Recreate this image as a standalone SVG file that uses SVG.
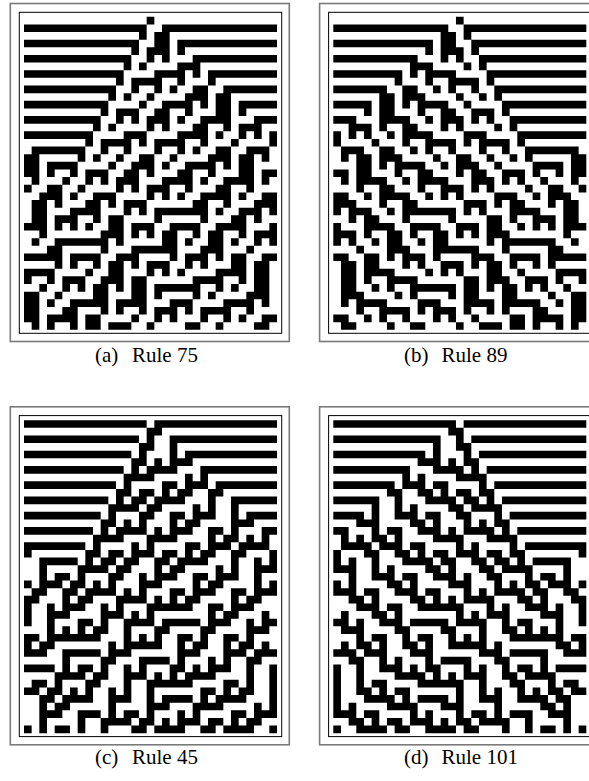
<svg xmlns="http://www.w3.org/2000/svg" xmlns:xlink="http://www.w3.org/1999/xlink" width="589" height="781" viewBox="0 0 589 781">
<style>
.outer{fill:none;stroke:#7a7a7a;stroke-width:1.6}
.inner{fill:none;stroke:#000;stroke-width:1}
.cap{font-family:"Liberation Serif","DejaVu Serif",serif;font-size:21px;fill:#000}
.ca{fill:#000}
</style>
<defs>
<path id="ca75" class="ca" d="M16 0h1v1h-1zM0 1h16v1h-16zM18 1h15v1h-15zM15 2h1v1h-1zM17 2h2v1h-2zM0 3h15v1h-15zM17 3h2v1h-2zM20 3h13v1h-13zM14 4h1v1h-1zM16 4h3v1h-3zM20 4h1v1h-1zM0 5h14v1h-14zM16 5h1v1h-1zM18 5h1v1h-1zM22 5h11v1h-11zM13 6h1v1h-1zM15 6h1v1h-1zM20 6h3v1h-3zM0 7h13v1h-13zM17 7h4v1h-4zM22 7h1v1h-1zM24 7h9v1h-9zM12 8h1v1h-1zM14 8h4v1h-4zM20 8h1v1h-1zM24 8h1v1h-1zM0 9h12v1h-12zM14 9h1v1h-1zM17 9h1v1h-1zM19 9h1v1h-1zM22 9h2v1h-2zM26 9h7v1h-7zM11 10h1v1h-1zM13 10h1v1h-1zM16 10h1v1h-1zM21 10h3v1h-3zM25 10h2v1h-2zM0 11h11v1h-11zM15 11h1v1h-1zM18 11h4v1h-4zM23 11h1v1h-1zM25 11h2v1h-2zM28 11h5v1h-5zM10 12h1v1h-1zM12 12h3v1h-3zM17 12h2v1h-2zM21 12h1v1h-1zM25 12h2v1h-2zM28 12h1v1h-1zM0 13h10v1h-10zM12 13h1v1h-1zM14 13h1v1h-1zM16 13h3v1h-3zM20 13h1v1h-1zM23 13h4v1h-4zM30 13h3v1h-3zM9 14h1v1h-1zM11 14h1v1h-1zM16 14h1v1h-1zM18 14h1v1h-1zM22 14h2v1h-2zM26 14h1v1h-1zM28 14h3v1h-3zM0 15h9v1h-9zM13 15h3v1h-3zM20 15h4v1h-4zM25 15h1v1h-1zM28 15h1v1h-1zM30 15h1v1h-1zM32 15h1v1h-1zM8 16h1v1h-1zM10 16h4v1h-4zM15 16h1v1h-1zM17 16h4v1h-4zM23 16h1v1h-1zM27 16h1v1h-1zM32 16h1v1h-1zM1 17h7v1h-7zM10 17h1v1h-1zM13 17h1v1h-1zM17 17h1v1h-1zM20 17h1v1h-1zM22 17h1v1h-1zM25 17h2v1h-2zM29 17h3v1h-3zM0 18h2v1h-2zM7 18h1v1h-1zM9 18h1v1h-1zM12 18h1v1h-1zM15 18h2v1h-2zM19 18h1v1h-1zM24 18h3v1h-3zM28 18h2v1h-2zM31 18h1v1h-1zM0 19h2v1h-2zM3 19h4v1h-4zM11 19h1v1h-1zM14 19h3v1h-3zM18 19h1v1h-1zM21 19h4v1h-4zM26 19h1v1h-1zM28 19h2v1h-2zM0 20h2v1h-2zM3 20h1v1h-1zM6 20h1v1h-1zM8 20h3v1h-3zM13 20h2v1h-2zM16 20h1v1h-1zM20 20h2v1h-2zM24 20h1v1h-1zM28 20h2v1h-2zM31 20h2v1h-2zM1 21h1v1h-1zM5 21h1v1h-1zM8 21h1v1h-1zM10 21h1v1h-1zM12 21h3v1h-3zM18 21h4v1h-4zM23 21h1v1h-1zM26 21h4v1h-4zM31 21h1v1h-1zM0 22h1v1h-1zM3 22h2v1h-2zM7 22h1v1h-1zM12 22h1v1h-1zM14 22h1v1h-1zM16 22h3v1h-3zM21 22h1v1h-1zM25 22h2v1h-2zM29 22h1v1h-1zM2 23h3v1h-3zM6 23h1v1h-1zM9 23h3v1h-3zM16 23h1v1h-1zM18 23h1v1h-1zM20 23h1v1h-1zM23 23h4v1h-4zM28 23h1v1h-1zM31 23h2v1h-2zM1 24h2v1h-2zM4 24h1v1h-1zM8 24h2v1h-2zM11 24h1v1h-1zM13 24h3v1h-3zM22 24h2v1h-2zM26 24h1v1h-1zM30 24h3v1h-3zM1 25h2v1h-2zM6 25h4v1h-4zM13 25h1v1h-1zM15 25h1v1h-1zM17 25h7v1h-7zM25 25h1v1h-1zM28 25h3v1h-3zM32 25h1v1h-1zM1 26h2v1h-2zM4 26h3v1h-3zM9 26h1v1h-1zM11 26h2v1h-2zM17 26h1v1h-1zM23 26h1v1h-1zM27 26h2v1h-2zM30 26h1v1h-1zM0 27h3v1h-3zM4 27h1v1h-1zM6 27h1v1h-1zM8 27h1v1h-1zM11 27h2v1h-2zM14 27h3v1h-3zM19 27h4v1h-4zM25 27h4v1h-4zM32 27h1v1h-1zM2 28h1v1h-1zM10 28h3v1h-3zM14 28h1v1h-1zM16 28h1v1h-1zM18 28h2v1h-2zM22 28h1v1h-1zM24 28h2v1h-2zM28 28h1v1h-1zM30 28h3v1h-3zM1 29h1v1h-1zM4 29h7v1h-7zM12 29h1v1h-1zM18 29h2v1h-2zM21 29h1v1h-1zM24 29h2v1h-2zM27 29h1v1h-1zM30 29h1v1h-1zM32 29h1v1h-1zM3 30h2v1h-2zM10 30h1v1h-1zM14 30h6v1h-6zM23 30h3v1h-3zM29 30h1v1h-1zM0 31h5v1h-5zM6 31h4v1h-4zM12 31h3v1h-3zM19 31h1v1h-1zM21 31h3v1h-3zM25 31h1v1h-1zM27 31h2v1h-2zM31 31h2v1h-2zM4 32h1v1h-1zM6 32h1v1h-1zM9 32h1v1h-1zM11 32h2v1h-2zM14 32h1v1h-1zM16 32h3v1h-3zM21 32h1v1h-1zM23 32h1v1h-1zM27 32h2v1h-2zM30 32h2v1h-2zM0 33h4v1h-4zM8 33h1v1h-1zM11 33h2v1h-2zM16 33h1v1h-1zM18 33h1v1h-1zM20 33h1v1h-1zM25 33h4v1h-4zM30 33h2v1h-2zM0 34h1v1h-1zM3 34h1v1h-1zM5 34h3v1h-3zM10 34h3v1h-3zM14 34h2v1h-2zM22 34h4v1h-4zM28 34h1v1h-1zM30 34h2v1h-2zM2 35h1v1h-1zM5 35h1v1h-1zM7 35h1v1h-1zM9 35h2v1h-2zM12 35h1v1h-1zM14 35h2v1h-2zM17 35h6v1h-6zM25 35h1v1h-1zM27 35h1v1h-1zM30 35h2v1h-2zM0 36h2v1h-2zM4 36h1v1h-1zM9 36h2v1h-2zM14 36h2v1h-2zM17 36h1v1h-1zM22 36h1v1h-1zM24 36h1v1h-1zM29 36h3v1h-3zM0 37h2v1h-2zM3 37h1v1h-1zM6 37h5v1h-5zM12 37h4v1h-4zM19 37h3v1h-3zM26 37h4v1h-4zM31 37h1v1h-1zM0 38h2v1h-2zM5 38h2v1h-2zM10 38h1v1h-1zM12 38h1v1h-1zM15 38h1v1h-1zM17 38h3v1h-3zM21 38h1v1h-1zM23 38h4v1h-4zM29 38h1v1h-1zM0 39h2v1h-2zM3 39h4v1h-4zM8 39h2v1h-2zM14 39h1v1h-1zM17 39h1v1h-1zM19 39h1v1h-1zM23 39h1v1h-1zM26 39h1v1h-1zM28 39h1v1h-1zM31 39h2v1h-2zM1 40h1v1h-1zM3 40h1v1h-1zM6 40h1v1h-1zM8 40h2v1h-2zM11 40h3v1h-3zM16 40h1v1h-1zM21 40h2v1h-2zM25 40h1v1h-1zM30 40h2v1h-2z"/>
<path id="ca45" class="ca" d="M0 0h16v1h-16zM17 0h16v1h-16zM16 1h2v1h-2zM0 2h15v1h-15zM16 2h1v1h-1zM19 2h14v1h-14zM15 3h2v1h-2zM19 3h1v1h-1zM0 4h14v1h-14zM15 4h1v1h-1zM19 4h1v1h-1zM21 4h12v1h-12zM14 5h2v1h-2zM17 5h1v1h-1zM19 5h3v1h-3zM0 6h13v1h-13zM14 6h1v1h-1zM16 6h4v1h-4zM23 6h10v1h-10zM13 7h4v1h-4zM21 7h1v1h-1zM23 7h1v1h-1zM0 8h12v1h-12zM13 8h1v1h-1zM18 8h2v1h-2zM21 8h3v1h-3zM25 8h8v1h-8zM12 9h2v1h-2zM15 9h2v1h-2zM18 9h1v1h-1zM20 9h2v1h-2zM24 9h2v1h-2zM0 10h11v1h-11zM12 10h1v1h-1zM14 10h2v1h-2zM17 10h4v1h-4zM24 10h1v1h-1zM27 10h6v1h-6zM11 11h4v1h-4zM16 11h2v1h-2zM22 11h1v1h-1zM24 11h1v1h-1zM27 11h1v1h-1zM0 12h10v1h-10zM11 12h1v1h-1zM15 12h2v1h-2zM19 12h2v1h-2zM22 12h3v1h-3zM27 12h1v1h-1zM29 12h4v1h-4zM10 13h2v1h-2zM13 13h1v1h-1zM15 13h1v1h-1zM19 13h1v1h-1zM21 13h2v1h-2zM27 13h3v1h-3zM0 14h9v1h-9zM10 14h1v1h-1zM12 14h4v1h-4zM17 14h1v1h-1zM19 14h3v1h-3zM24 14h2v1h-2zM27 14h1v1h-1zM31 14h2v1h-2zM9 15h4v1h-4zM16 15h4v1h-4zM24 15h1v1h-1zM26 15h2v1h-2zM29 15h1v1h-1zM31 15h1v1h-1zM0 16h8v1h-8zM9 16h1v1h-1zM14 16h1v1h-1zM16 16h1v1h-1zM21 16h2v1h-2zM24 16h3v1h-3zM28 16h4v1h-4zM0 17h1v1h-1zM8 17h2v1h-2zM11 17h2v1h-2zM14 17h3v1h-3zM18 17h2v1h-2zM21 17h1v1h-1zM23 17h2v1h-2zM27 17h2v1h-2zM32 17h1v1h-1zM2 18h5v1h-5zM8 18h1v1h-1zM10 18h2v1h-2zM13 18h2v1h-2zM17 18h2v1h-2zM20 18h4v1h-4zM27 18h1v1h-1zM30 18h1v1h-1zM32 18h1v1h-1zM2 19h1v1h-1zM7 19h4v1h-4zM12 19h2v1h-2zM17 19h1v1h-1zM19 19h2v1h-2zM25 19h1v1h-1zM27 19h1v1h-1zM30 19h3v1h-3zM2 20h1v1h-1zM4 20h2v1h-2zM7 20h1v1h-1zM11 20h2v1h-2zM15 20h1v1h-1zM17 20h3v1h-3zM22 20h2v1h-2zM25 20h3v1h-3zM30 20h1v1h-1zM0 21h1v1h-1zM2 21h3v1h-3zM6 21h2v1h-2zM9 21h1v1h-1zM11 21h1v1h-1zM15 21h3v1h-3zM22 21h1v1h-1zM24 21h2v1h-2zM30 21h1v1h-1zM32 21h1v1h-1zM1 22h2v1h-2zM5 22h2v1h-2zM8 22h4v1h-4zM13 22h1v1h-1zM15 22h1v1h-1zM19 22h2v1h-2zM22 22h3v1h-3zM27 22h2v1h-2zM30 22h3v1h-3zM0 23h2v1h-2zM5 23h1v1h-1zM7 23h2v1h-2zM12 23h4v1h-4zM17 23h1v1h-1zM19 23h1v1h-1zM21 23h2v1h-2zM27 23h1v1h-1zM29 23h2v1h-2zM0 24h1v1h-1zM3 24h1v1h-1zM5 24h3v1h-3zM10 24h1v1h-1zM12 24h1v1h-1zM16 24h6v1h-6zM24 24h2v1h-2zM27 24h3v1h-3zM0 25h1v1h-1zM3 25h3v1h-3zM10 25h3v1h-3zM14 25h1v1h-1zM16 25h1v1h-1zM24 25h1v1h-1zM26 25h2v1h-2zM31 25h1v1h-1zM0 26h1v1h-1zM3 26h1v1h-1zM7 26h2v1h-2zM10 26h1v1h-1zM13 26h4v1h-4zM18 26h5v1h-5zM24 26h3v1h-3zM29 26h1v1h-1zM31 26h2v1h-2zM3 27h1v1h-1zM5 27h1v1h-1zM7 27h1v1h-1zM9 27h2v1h-2zM13 27h1v1h-1zM17 27h2v1h-2zM23 27h2v1h-2zM29 27h3v1h-3zM0 28h2v1h-2zM3 28h7v1h-7zM13 28h1v1h-1zM15 28h1v1h-1zM17 28h1v1h-1zM20 28h2v1h-2zM23 28h1v1h-1zM26 28h2v1h-2zM29 28h1v1h-1zM0 29h1v1h-1zM2 29h2v1h-2zM11 29h1v1h-1zM13 29h5v1h-5zM20 29h1v1h-1zM22 29h2v1h-2zM26 29h1v1h-1zM28 29h2v1h-2zM31 29h1v1h-1zM0 30h3v1h-3zM5 30h5v1h-5zM11 30h3v1h-3zM20 30h3v1h-3zM26 30h3v1h-3zM30 30h3v1h-3zM5 31h1v1h-1zM10 31h2v1h-2zM15 31h4v1h-4zM20 31h1v1h-1zM24 31h1v1h-1zM26 31h1v1h-1zM29 31h2v1h-2zM0 32h4v1h-4zM5 32h1v1h-1zM7 32h2v1h-2zM10 32h1v1h-1zM13 32h1v1h-1zM15 32h1v1h-1zM19 32h2v1h-2zM22 32h1v1h-1zM24 32h3v1h-3zM29 32h1v1h-1zM32 32h1v1h-1zM4 33h4v1h-4zM9 33h2v1h-2zM13 33h3v1h-3zM17 33h1v1h-1zM19 33h1v1h-1zM21 33h4v1h-4zM29 33h1v1h-1zM32 33h1v1h-1zM1 34h2v1h-2zM4 34h1v1h-1zM8 34h2v1h-2zM13 34h1v1h-1zM16 34h6v1h-6zM26 34h2v1h-2zM29 34h1v1h-1zM32 34h1v1h-1zM0 35h2v1h-2zM3 35h2v1h-2zM6 35h1v1h-1zM8 35h1v1h-1zM11 35h1v1h-1zM13 35h1v1h-1zM16 35h1v1h-1zM23 35h2v1h-2zM26 35h1v1h-1zM28 35h2v1h-2zM32 35h1v1h-1zM2 36h2v1h-2zM5 36h4v1h-4zM11 36h3v1h-3zM16 36h1v1h-1zM18 36h4v1h-4zM23 36h1v1h-1zM25 36h4v1h-4zM32 36h1v1h-1zM2 37h1v1h-1zM4 37h2v1h-2zM11 37h1v1h-1zM16 37h3v1h-3zM22 37h4v1h-4zM30 37h1v1h-1zM32 37h1v1h-1zM2 38h3v1h-3zM7 38h3v1h-3zM11 38h1v1h-1zM13 38h2v1h-2zM16 38h1v1h-1zM20 38h1v1h-1zM22 38h1v1h-1zM27 38h2v1h-2zM30 38h3v1h-3zM2 39h1v1h-1zM7 39h1v1h-1zM10 39h4v1h-4zM15 39h2v1h-2zM18 39h1v1h-1zM20 39h3v1h-3zM24 39h2v1h-2zM27 39h1v1h-1zM29 39h2v1h-2zM0 40h1v1h-1zM2 40h1v1h-1zM4 40h2v1h-2zM7 40h1v1h-1zM10 40h1v1h-1zM14 40h2v1h-2zM17 40h4v1h-4zM23 40h2v1h-2zM26 40h4v1h-4zM32 40h1v1h-1z"/>
</defs>
<rect width="589" height="781" fill="#fff"/>
<g id="panel-a">
<rect class="outer" x="10.3" y="3.5" width="279" height="338"/>
<rect class="inner" x="19.3" y="12.3" width="262.4" height="321"/>
<use xlink:href="#ca75" href="#ca75" transform="translate(24,16.8) scale(7.6667,7.6341)"/>
<text class="cap" x="95" y="362">(a)</text><text class="cap" x="132" y="362">Rule 75</text>
</g>
<g id="panel-b">
<rect class="outer" x="319.6" y="3.5" width="279" height="338"/>
<rect class="inner" x="328.6" y="12.3" width="262.4" height="321"/>
<use xlink:href="#ca75" href="#ca75" transform="translate(586.3,16.8) scale(-7.6667,7.6341)"/>
<text class="cap" x="404" y="362">(b)</text><text class="cap" x="441.5" y="362">Rule 89</text>
</g>
<g id="panel-c">
<rect class="outer" x="10.3" y="406.8" width="279" height="338"/>
<rect class="inner" x="19.3" y="415.6" width="262.4" height="321"/>
<use xlink:href="#ca45" href="#ca45" transform="translate(24,420.2) scale(7.6667,7.6341)"/>
<text class="cap" x="95" y="764">(c)</text><text class="cap" x="132" y="764">Rule 45</text>
</g>
<g id="panel-d">
<rect class="outer" x="319.6" y="406.8" width="279" height="338"/>
<rect class="inner" x="328.6" y="415.6" width="262.4" height="321"/>
<use xlink:href="#ca45" href="#ca45" transform="translate(586.3,420.2) scale(-7.6667,7.6341)"/>
<text class="cap" x="404" y="764">(d)</text><text class="cap" x="441.5" y="764">Rule 101</text>
</g>
</svg>
